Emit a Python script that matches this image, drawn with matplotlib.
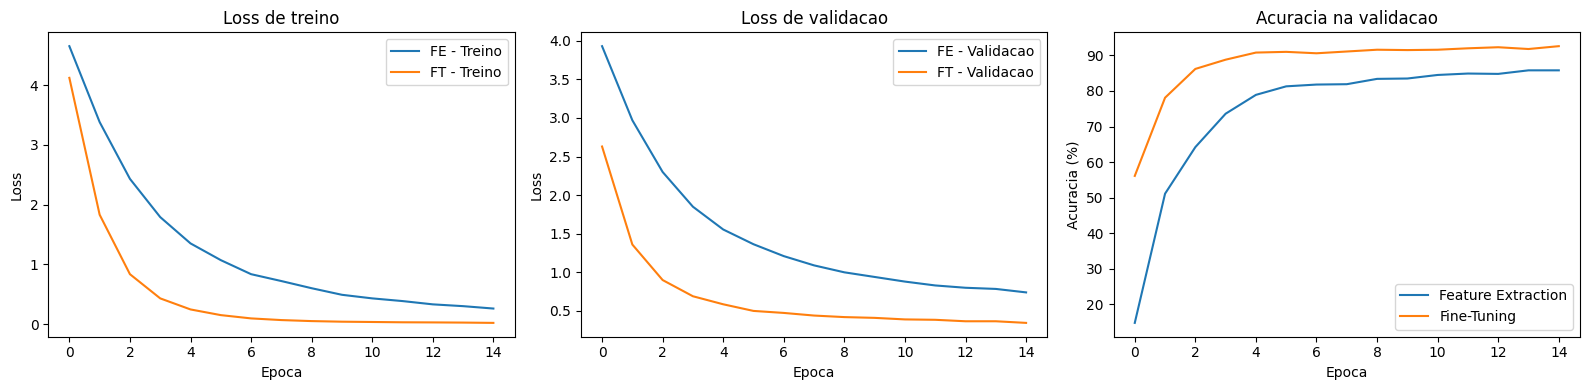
import matplotlib
matplotlib.use('Agg')
import matplotlib.pyplot as plt

epocas = list(range(15))

# loss de treino
fe_treino = [4.65, 3.38, 2.43, 1.79, 1.35, 1.07, 0.835, 0.72, 0.60, 0.49, 0.43, 0.385, 0.33, 0.30, 0.26]
ft_treino = [4.12, 1.83, 0.835, 0.43, 0.245, 0.15, 0.095, 0.067, 0.05, 0.04, 0.035, 0.03, 0.028, 0.025, 0.02]

# loss de validacao
fe_val = [3.93, 2.97, 2.30, 1.85, 1.555, 1.364, 1.21, 1.09, 1.00, 0.94, 0.88, 0.83, 0.80, 0.785, 0.74]
ft_val = [2.63, 1.36, 0.90, 0.69, 0.586, 0.50, 0.474, 0.44, 0.42, 0.41, 0.39, 0.385, 0.366, 0.366, 0.345]

# acuracia na validacao (%)
fe_acc = [14.75, 51.1, 64.2, 73.6, 78.9, 81.3, 81.8, 81.9, 83.4, 83.5, 84.5, 84.9, 84.8, 85.8, 85.8]
ft_acc = [56.1, 78.1, 86.2, 88.8, 90.8, 91.0, 90.6, 91.1, 91.6, 91.5, 91.6, 92.0, 92.3, 91.8, 92.6]

fig, axes = plt.subplots(1, 3, figsize=(16, 4), dpi=100)

ax = axes[0]
ax.plot(epocas, fe_treino, label='FE - Treino')
ax.plot(epocas, ft_treino, label='FT - Treino')
ax.set_title('Loss de treino')
ax.set_xlabel('Epoca')
ax.set_ylabel('Loss')
ax.legend()

ax = axes[1]
ax.plot(epocas, fe_val, label='FE - Validacao')
ax.plot(epocas, ft_val, label='FT - Validacao')
ax.set_title('Loss de validacao')
ax.set_xlabel('Epoca')
ax.set_ylabel('Loss')
ax.legend()

ax = axes[2]
ax.plot(epocas, fe_acc, label='Feature Extraction')
ax.plot(epocas, ft_acc, label='Fine-Tuning')
ax.set_title('Acuracia na validacao')
ax.set_xlabel('Epoca')
ax.set_ylabel('Acuracia (%)')
ax.legend()

plt.tight_layout()
plt.savefig('out.png', bbox_inches='tight')
plt.close()
